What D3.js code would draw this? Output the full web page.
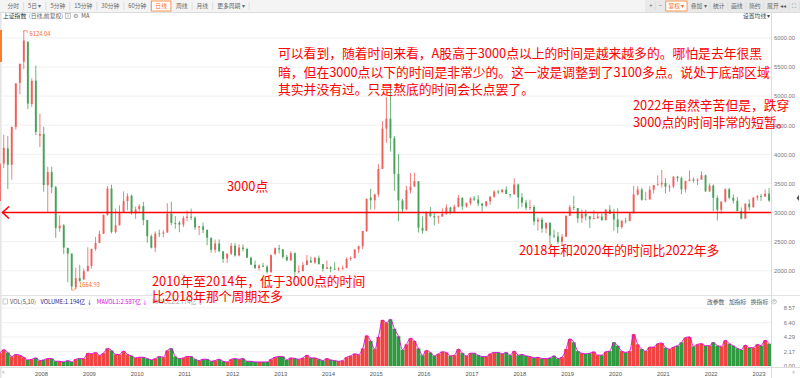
<!DOCTYPE html>
<html>
<head>
<meta charset="utf-8">
<script src="https://d3js.org/d3.v7.min.js"></script>
<style>
  body { margin: 0; background: #fff; }
  svg { display: block; font-family: "Noto Sans CJK SC", "Noto Sans", sans-serif; }
  .ui { font-size: 5.8px; fill: #555; }
  .note { font-size: 12.8px; fill: #ff0000; }
</style>
</head>
<body>
<svg id="chart" width="800" height="378"></svg>
<script>
// monthly candles, Apr 2007 .. May 2023 (上证指数)
const months = d3.timeMonths(new Date(2007, 3, 1), new Date(2023, 5, 1));

const opens = [
  3196,3841,4101,3820,4472,5228,5592,5934,4864,
  5265,4320,4349,3471,3694,3433,2730,2780,2390,2294,1719,1872,
  1849,1990,2082,2374,2477,2634,2959,3412,2667,2780,2996,3195,
  3289,2982,3060,3110,2870,2593,2398,2640,2638,2656,2980,2820,
  2825,2791,2905,2928,2911,2743,2762,2701,2567,2359,2468,2333,
  2212,2293,2428,2263,2397,2373,2225,2103,2047,2086,2069,1980,
  2289,2385,2366,2237,2178,2301,1979,1994,2098,2175,2142,2220,
  2112,2033,2056,2033,2026,2039,2048,2201,2217,2364,2420,2683,
  3258,3210,3310,3748,4441,4612,4277,3664,3206,3053,3383,3445,
  3536,2738,2688,3004,2938,2917,2930,2979,3085,3005,3100,3250,
  3105,3159,3242,3223,3155,3117,3192,3273,3361,3349,3393,3317,
  3314,3481,3259,3169,3082,3095,2847,2876,2725,2821,2603,2588,
  2497,2585,2941,3091,3078,2899,2979,2933,2886,2905,2929,2872,
  3050,2977,2880,2750,2860,2852,2985,3310,3396,3218,3225,3392,
  3474,3483,3509,3442,3447,3615,3591,3397,3544,3568,3547,3564,
  3640,3362,3462,3252,3047,3186,3399,3253,3202,3024,2893,3151,
  3089,3256,3280,3273,3323
];
const highs = [
  3786,4335,4312,4472,5219,5562,6124.04,5935,5303,
  5522,4695,4473,3786,3786,3459,2952,2800,2398,2295,2051,2100,
  2039,2402,2380,2579,2688,2965,3454,3478,3068,3123,3361,3329,
  3306,3100,3143,3181,2876,2622,2674,2702,2696,3159,3186,2939,
  2852,2943,3036,3067,2932,2770,2827,2710,2567,2536,2537,2332,
  2296,2478,2478,2452,2453,2394,2241,2173,2110,2136,2098,2276,
  2398,2444,2375,2272,2334,2315,2092,2149,2270,2243,2243,2260,
  2113,2177,2079,2146,2063,2087,2230,2248,2370,2430,2683,3239,
  3406,3325,3835,4572,4986,5178,4317,4006,3231,3459,3678,3684,
  3539,2934,3019,3097,2997,2949,3071,3140,3101,3135,3301,3264,
  3174,3262,3284,3295,3155,3193,3276,3380,3391,3402,3451,3318,
  3587,3495,3333,3220,3219,3128,2915,2916,2827,2838,2703,2667,
  2630,2954,3129,3288,3076,3048,3047,2941,3042,2998,2985,3052,
  3127,3058,3074,2863,2912,3002,3458,3453,3426,3356,3453,3474,
  3637,3732,3590,3481,3625,3630,3618,3544,3723,3597,3588,3708,
  3651,3501,3482,3294,3195,3415,3425,3311,3264,3088,3156,3226,
  3269,3300,3318,3396,3419
];
const lows = [
  3196,3764,3404,3563,4425,5033,5462,4778,4812,
  4330,4123,3357,2990,3334,2566,2670,2284,1802,1664.93,1678,1814,
  1844,1990,2037,2343,2477,2632,2945,2639,2639,2780,3000,3039,
  2963,2890,2986,2781,2481,2382,2319,2580,2573,2655,2782,2721,
  2661,2750,2850,2870,2701,2610,2645,2437,2307,2307,2319,2134,
  2132,2270,2242,2245,2330,2219,2100,2027,2004,2058,1949,1959,
  2264,2296,2209,2164,2170,1849,1951,1989,2092,2132,2116,2102,
  1984,2033,1974,2012,1991,2010,2040,2170,2210,2300,2370,2664,
  3049,3050,3268,3748,4198,4050,3373,2850,2983,3039,3328,3448,
  2656,2638,2686,2920,2781,2808,2930,2960,2969,3005,3087,3045,
  3084,3125,3197,3109,3016,3090,3133,3252,3317,3340,3315,3254,
  3306,3063,3091,3041,3041,2782,2691,2653,2644,2449,2561,2463,
  2440,2576,2941,3043,2824,2824,2863,2733,2899,2889,2856,2858,
  2976,2685,2647,2721,2814,2853,2985,3291,3202,3218,3223,3325,
  3466,3427,3328,3355,3416,3530,3312,3343,3539,3515,3470,3569,
  3359,3357,3023,2863,2979,3173,3227,3155,3021,2885,2897,3035,
  3089,3205,3199,3270,3185
];
const closes = [
  3841,4110,3821,4471,5219,5553,5955,4871,5262,
  4383,4349,3473,3693,3433,2736,2776,2397,2293,1729,1871,1821,
  1991,2082,2373,2477,2633,2959,3412,2668,2779,2996,3195,3277,
  2989,3051,3110,2870,2592,2398,2638,2638,2656,2978,2820,2808,
  2791,2905,2928,2911,2743,2762,2701,2567,2359,2468,2333,2199,
  2293,2428,2263,2397,2373,2225,2103,2047,2086,2069,1980,2269,
  2385,2366,2237,2178,2301,1979,1994,2098,2175,2142,2220,2116,
  2033,2056,2033,2026,2039,2048,2201,2217,2364,2420,2683,3235,
  3210,3310,3748,4441,4612,4277,3664,3206,3053,3383,3445,3539,
  2738,2688,3004,2938,2917,2930,2979,3085,3005,3100,3250,3104,
  3159,3242,3223,3155,3117,3192,3273,3361,3349,3393,3317,3307,
  3481,3259,3169,3082,3095,2847,2876,2725,2821,2603,2588,2494,
  2585,2941,3091,3078,2899,2979,2933,2886,2905,2929,2872,3050,
  2977,2880,2750,2860,2852,2985,3310,3396,3218,3225,3392,3473,
  3483,3509,3442,3447,3615,3591,3397,3544,3568,3547,3564,3640,
  3362,3462,3252,3047,3186,3399,3253,3202,3024,2893,3151,3089,
  3256,3280,3273,3323,3205
];
// average daily volume, 亿
const vols = [
  1.9,2.4,2.0,1.4,1.7,1.6,1.3,0.9,1.0,
  1.2,0.8,0.9,1.1,1.1,0.7,0.7,0.6,0.8,0.6,1.0,1.1,
  1.1,1.9,1.8,2.0,1.6,1.9,2.6,2.3,1.7,1.7,2.2,1.7,
  1.5,1.2,1.3,1.3,1.1,0.9,1.1,1.4,1.3,2.3,2.6,1.4,
  1.1,1.2,1.4,1.4,1.0,0.8,1.0,1.0,0.7,0.8,1.0,0.7,
  0.6,1.0,1.1,1.0,1.1,0.7,0.7,0.6,0.6,0.6,0.6,1.0,
  1.3,1.4,1.4,0.9,1.2,1.1,1.0,1.2,1.6,1.2,1.2,1.0,
  0.8,1.1,0.9,0.8,0.7,0.8,1.3,1.5,1.8,1.7,2.6,4.5,
  3.7,2.5,4.3,6.8,6.4,6.9,5.5,4.4,2.4,3.2,4.1,3.7,
  2.6,1.6,2.3,2.0,1.5,1.8,2.1,2.0,1.5,1.6,2.5,1.9,
  1.5,1.9,1.9,1.6,1.4,1.4,1.8,2.0,2.0,1.8,2.0,1.6,
  2.2,1.6,1.7,1.5,1.4,1.2,1.3,1.1,1.1,1.2,1.5,1.1,
  1.3,2.5,4.0,3.5,2.2,1.9,1.8,1.9,2.1,1.6,1.6,2.1,
  2.2,3.5,3.0,2.2,2.0,2.2,4.7,3.2,2.5,2.2,2.8,2.8,
  3.3,3.4,2.7,2.5,2.8,3.0,3.5,4.2,4.3,2.9,3.2,3.3,
  3.0,3.0,3.5,3.0,2.9,3.8,3.3,3.0,2.6,2.4,3.1,2.7,
  2.7,3.2,3.0,3.8,3.3
];

const priceTicks = [2000, 2500, 3000, 3500, 4000, 4500, 5000, 5500, 6000];
const volTicks = [0, 2.17, 4.29, 6.40, 8.57];
const toolLeft = ["分时", "5日 ▾", "5分钟", "15分钟", "30分钟", "60分钟", "日线", "周线", "月线", "更多周期 ▾"];
const toolRight = ["+", "−", "复权 ▾", "叠加 ▾", "统计", "画线", "简约", "展开 ◂◂", "⛶"];
const activeTools = ["日线", "复权 ▾"];
const volLegend = [
  {t: "VOL(5,10)", c: "#555"},
  {t: "VOLUME:1.194亿 ↓", c: "#1d1d8c"},
  {t: "MAVOL1:2.587亿 ↓", c: "#e000e0"},
  {t: "MAVOL2:2.774亿 ↓", c: "#999"}
];
const indTools = ["改参数", "加指标", "换指标"];

const notes = [
  {x: 278, y: 58, t: "可以看到，随着时间来看，A股高于3000点以上的时间是越来越多的。哪怕是去年很黑"},
  {x: 278, y: 76.5, t: "暗，但在3000点以下的时间是非常少的。这一波是调整到了3100多点。说处于底部区域"},
  {x: 278, y: 94, t: "其实并没有过。只是熬底的时间会长点罢了。"},
  {x: 633, y: 110, t: "2022年虽然辛苦但是，跌穿"},
  {x: 633, y: 127, t: "3000点的时间非常的短暂。"},
  {x: 227, y: 191, t: "3000点"},
  {x: 519, y: 255, t: "2018年和2020年的时间比2022年多"},
  {x: 152, y: 286, t: "2010年至2014年，低于3000点的时间"},
  {x: 152, y: 301, t: "比2018年那个周期还多"}
];

const candles = months.map((m, i) => ({
  date: new Date(m.getFullYear(), m.getMonth(), 15),
  o: opens[i], h: highs[i], l: lows[i], c: closes[i], v: vols[i]
}));

const svg = d3.select("#chart");
const W = 800, axisX = 771;

const x = d3.scaleTime()
  .domain([new Date(2008, 0, 1), new Date(2023, 0, 1)])
  .range([34, 751.5]);
const y = d3.scaleLinear().domain([2000, 6000]).range([270.7, 37.9]);
const yv = d3.scaleLinear().domain([0, 8.57]).range([366, 308]);

const upCol = "#ef5f5c", downCol = "#48a258";

// ---- toolbar ----
svg.append("rect").attr("x", 0).attr("y", 0).attr("width", W).attr("height", 12).attr("fill", "#f4f4f4");
svg.append("rect").attr("x", 645).attr("y", 0).attr("width", 155).attr("height", 12).attr("fill", "#e9e9e9");
svg.append("line").attr("x1", 0).attr("x2", W).attr("y1", 12.5).attr("y2", 12.5).attr("stroke", "#dcdcdc");

function toolbar(labels, x0, pad) {
  let cx = x0;
  labels.forEach(t => {
    const g = svg.append("g");
    const active = activeTools.includes(t);
    const txt = g.append("text").attr("class", "ui").attr("x", cx + pad).attr("y", 8.1).text(t)
      .style("fill", active ? "#ff6a1a" : "#666");
    const w = txt.node().getComputedTextLength() + pad * 2;
    if (active) {
      g.insert("rect", "text").attr("x", cx + 0.5).attr("y", 1).attr("width", w - 1).attr("height", 10)
        .attr("fill", "#fff").attr("stroke", "#ff8a3d").attr("stroke-width", 0.9);
    } else {
      g.append("line").attr("x1", cx + w).attr("x2", cx + w).attr("y1", 2).attr("y2", 10)
        .attr("stroke", "#dedede");
    }
    cx += w;
  });
}
toolbar(toolLeft, 3, 4.5);
toolbar(toolRight, 646, 3.2);

// title row, laid out left to right
let tx = 3;
function titlePart(t, fill, gap) {
  const e = svg.append("text").attr("class", "ui").attr("x", tx).attr("y", 17.5).style("fill", fill).text(t);
  tx += e.node().getComputedTextLength() + gap;
  return e;
}
titlePart("上证指数", "#333", 2.5);
titlePart("(日线,前复权)", "#666", 2);
svg.append("rect").attr("x", tx).attr("y", 13.6).attr("width", 5).attr("height", 5).attr("fill", "none").attr("stroke", "#888").attr("stroke-width", 0.5);
svg.append("text").attr("class", "ui").attr("x", tx + 2.5).attr("y", 17.6).attr("text-anchor", "middle").style("font-size", "4.2px").text("?");
tx += 8;
titlePart("⚙", "#888", 3);
titlePart("MA", "#555", 0);
svg.append("text").attr("class", "ui").attr("x", 743).attr("y", 17.5).style("fill", "#444").text("设置均线 ▾");

// left edge strip
svg.append("rect").attr("x", 0).attr("y", 13).attr("width", 1.6).attr("height", 365).attr("fill", "#e4e4e4");
svg.append("rect").attr("x", 0).attr("y", 30).attr("width", 2).attr("height", 32).attr("fill", "#ff7a2a");

// ---- price grid + axis ----
svg.append("g").selectAll("line").data(priceTicks).join("line")
  .attr("x1", 2).attr("x2", axisX).attr("y1", d => y(d)).attr("y2", d => y(d))
  .attr("stroke", "#f0f0f0");

const pAxis = svg.append("g").attr("transform", `translate(${axisX},0)`)
  .call(d3.axisRight(y).tickValues(priceTicks).tickFormat(d3.format(".2f")).tickSize(0).tickPadding(3));
pAxis.select(".domain").remove();
pAxis.selectAll("text").attr("class", "ui").style("fill", "#777").attr("font-family", null).attr("font-size", null);

svg.append("line").attr("x1", axisX + 0.5).attr("x2", axisX + 0.5).attr("y1", 13).attr("y2", 378).attr("stroke", "#dcdcdc");
svg.append("path").attr("d", "M799,195 l-2.5,3 l2.5,3 z").attr("fill", "#555");

// ---- candles ----
const cg = svg.append("g");
cg.selectAll("line").data(candles).join("line")
  .attr("x1", d => x(d.date)).attr("x2", d => x(d.date))
  .attr("y1", d => y(d.h)).attr("y2", d => y(d.l))
  .attr("stroke", d => d.c >= d.o ? upCol : downCol).attr("stroke-width", 0.8);
cg.selectAll("rect").data(candles).join("rect")
  .attr("x", d => x(d.date) - 0.95).attr("width", 1.9)
  .attr("y", d => y(Math.max(d.o, d.c)))
  .attr("height", d => Math.max(0.8, Math.abs(y(d.o) - y(d.c))))
  .attr("fill", d => d.c >= d.o ? upCol : downCol);

// peak / trough labels
const peak = candles[6], trough = candles[18];
svg.append("path").attr("d", `M${x(peak.date)},${y(peak.h) + 1} v-1 h3.5 v2.5`)
  .attr("fill", "none").attr("stroke", "#ff6a1a").attr("stroke-width", 0.6);
svg.append("text").attr("class", "ui").attr("x", 29.5).attr("y", 35.6).style("fill", "#ff6a1a").text("6124.04");
svg.append("path").attr("d", `M${x(trough.date)},${y(trough.l)} h2 l3,-4`)
  .attr("fill", "none").attr("stroke", "#ff6a1a").attr("stroke-width", 0.6);
svg.append("text").attr("class", "ui").attr("x", 79).attr("y", 286.5).style("fill", "#ff6a1a").text("1664.93");

// ---- 3000 line with arrow ----
const y3000 = y(3000);
svg.append("line").attr("x1", 2).attr("x2", axisX).attr("y1", y3000).attr("y2", y3000)
  .attr("stroke", "#ff0000").attr("stroke-width", 1.6);
svg.append("path").attr("d", `M9,${y3000 - 6} L2.5,${y3000} L9,${y3000 + 6}`)
  .attr("fill", "none").attr("stroke", "#ff0000").attr("stroke-width", 1.6);

// ---- volume panel ----
svg.append("line").attr("x1", 0).attr("x2", W).attr("y1", 295.5).attr("y2", 295.5).attr("stroke", "#e2e2e2");
svg.append("g").selectAll("line").data(volTicks).join("line")
  .attr("x1", 2).attr("x2", axisX).attr("y1", d => yv(d)).attr("y2", d => yv(d))
  .attr("stroke", "#f0f0f0");

const vg = svg.append("g");
vg.selectAll("rect").data(candles).join("rect")
  .attr("x", d => x(d.date) - 1.9).attr("width", 3.8)
  .attr("y", d => yv(d.v)).attr("height", d => yv(0) - yv(d.v))
  .attr("fill", d => d.c >= d.o ? "#f04442" : "#2f9a40");
vg.append("path").datum(candles)
  .attr("d", d3.line().x(d => x(d.date)).y(d => yv(d.v)).curve(d3.curveMonotoneX))
  .attr("fill", "none").attr("stroke", "#e000e0").attr("stroke-width", 0.9);

const vAxis = svg.append("g").attr("transform", `translate(${axisX},0)`)
  .call(d3.axisRight(yv).tickValues(volTicks).tickFormat(d3.format(".2f")).tickSize(0).tickPadding(3));
vAxis.select(".domain").remove();
vAxis.selectAll("text").attr("class", "ui").style("fill", "#777").attr("text-anchor", "end").attr("x", 24)
  .attr("font-family", null).attr("font-size", null);

// volume legend
svg.append("rect").attr("x", 3).attr("y", 299).attr("width", 4.5).attr("height", 5).attr("fill", "none").attr("stroke", "#999").attr("stroke-width", 0.5);
let lx = 10;
volLegend.forEach(d => {
  const t = svg.append("text").attr("class", "ui").attr("x", lx).attr("y", 303.6).style("fill", d.c).text(d.t);
  lx += t.node().getComputedTextLength() + 4.5;
});
let ix = 707;
indTools.forEach(t => {
  const e = svg.append("text").attr("class", "ui").attr("x", ix).attr("y", 303.6).style("fill", "#555").text(t);
  ix += e.node().getComputedTextLength() + 4.5;
});
svg.append("circle").attr("cx", ix + 1.5).attr("cy", 301.6).attr("r", 2.3).attr("fill", "none").attr("stroke", "#999").attr("stroke-width", 0.5);
svg.append("text").attr("class", "ui").attr("x", ix + 1.5).attr("y", 303).attr("text-anchor", "middle").style("font-size", "4px").style("fill", "#777").text("×");

// ---- date axis ----
svg.append("line").attr("x1", 0).attr("x2", W).attr("y1", 367.5).attr("y2", 367.5).attr("stroke", "#dcdcdc");
const dAxis = svg.append("g").attr("transform", "translate(0,368)")
  .call(d3.axisBottom(x).ticks(d3.timeYear.every(1)).tickFormat(d3.timeFormat("%Y")).tickSize(0).tickPadding(3.5));
dAxis.select(".domain").remove();
dAxis.selectAll("text").attr("class", "ui").style("fill", "#555").attr("text-anchor", "start").attr("dx", "0.5")
  .attr("font-family", null).attr("font-size", null);
svg.append("text").attr("class", "ui").attr("x", 2).attr("y", 374).style("fill", "#999").text("«");
svg.append("text").attr("class", "ui").attr("x", 792).attr("y", 374).style("fill", "#999").text("»");

// ---- annotations ----
svg.append("g").selectAll("text").data(notes).join("text")
  .attr("class", "note").attr("x", d => d.x).attr("y", d => d.y).text(d => d.t);
</script>
</body>
</html>
